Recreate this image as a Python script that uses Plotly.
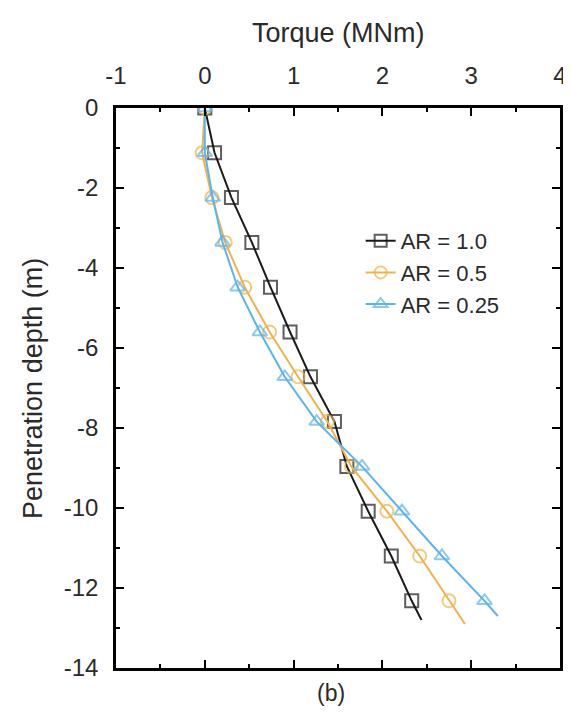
import plotly.graph_objects as go

depth_markers = [0, -1.12, -2.24, -3.36, -4.48, -5.6, -6.72, -7.84, -8.96, -10.08, -11.2, -12.32]

ar10_x = [0, 0.11, 0.30, 0.53, 0.74, 0.96, 1.19, 1.46, 1.60, 1.84, 2.10, 2.33, 2.44]
ar10_y = depth_markers + [-12.8]

ar05_x = [0, -0.03, 0.08, 0.23, 0.45, 0.73, 1.05, 1.38, 1.65, 2.05, 2.42, 2.75, 2.93]
ar05_y = depth_markers + [-12.9]

ar025_x = [0, 0.0, 0.09, 0.20, 0.37, 0.62, 0.90, 1.26, 1.77, 2.22, 2.67, 3.15, 3.30]
ar025_y = depth_markers + [-12.7]

x_tickvals = [-1, 0, 1, 2, 3, 4]
x_ticktext = ["-1", "0", "1", "2", "3", "4"]
y_tickvals = [0, -2, -4, -6, -8, -10, -12, -14]
y_ticktext = ["0", "-2", "-4", "-6", "-8", "-10", "-12", "-14"]

names = ["AR = 1.0", "AR = 0.5", "AR = 0.25"]
colors = ["#1a1a1a", "#F2B24A", "#5AB4EE"]
symbols = ["square-open", "circle-open", "triangle-up-open"]

FONT = "Liberation Sans, Arial, sans-serif"
TXT = "#2a2a2a"

fig = go.Figure()
series = [(ar10_x, ar10_y), (ar05_x, ar05_y), (ar025_x, ar025_y)]
for (xs, ys), nm, c, s in zip(series, names, colors, symbols):
    sizes = [13] * (len(xs) - 1) + [0]
    fig.add_trace(go.Scatter(
        x=xs, y=ys, mode="lines+markers", name=nm,
        line=dict(color=c, width=2),
        marker=dict(symbol=s, size=sizes, color=c, line=dict(color=c, width=2)),
    ))

axis_common = dict(
    showline=True, linecolor="black", linewidth=2.5, mirror="ticks",
    ticks="inside", ticklen=8, tickwidth=2, tickcolor="black",
    showgrid=False, zeroline=False, automargin=False,
    tickfont=dict(family=FONT, size=24, color=TXT),
)

fig.update_layout(
    width=571, height=724,
    margin=dict(l=108, r=19, t=100, b=64),
    paper_bgcolor="white", plot_bgcolor="white",
    font=dict(family=FONT, color=TXT),
    xaxis=dict(
        side="top", range=[-1, 4], tickmode="array",
        tickvals=x_tickvals, ticktext=x_ticktext, ticklabelstandoff=12,
        minor=dict(dtick=0.5, tick0=0, ticks="inside", ticklen=4, tickwidth=1.5, tickcolor="black"),
        **axis_common,
    ),
    yaxis=dict(
        range=[-14, 0], tickmode="array",
        tickvals=y_tickvals, ticktext=y_ticktext, ticklabelstandoff=10,
        minor=dict(dtick=1, tick0=0, ticks="inside", ticklen=4, tickwidth=1.5, tickcolor="black"),
        **axis_common,
    ),
    legend=dict(
        x=0.551, y=0.80, xanchor="left", yanchor="top",
        bgcolor="rgba(0,0,0,0)", font=dict(family=FONT, size=22, color=TXT),
        tracegroupgap=0,
    ),
    showlegend=True,
)

fig.add_annotation(
    text="Torque (MNm)", xref="paper", yref="paper", x=0.5, y=1.134,
    xanchor="center", yanchor="middle", showarrow=False,
    font=dict(family=FONT, size=27, color=TXT),
)
fig.add_annotation(
    text="Penetration depth (m)", xref="paper", yref="paper", x=-0.187, y=0.5,
    xanchor="center", yanchor="middle", showarrow=False, textangle=-90,
    font=dict(family=FONT, size=27, color=TXT),
)
fig.add_annotation(
    text="(b)", xref="paper", yref="paper", x=0.485, y=-0.045,
    xanchor="center", yanchor="middle", showarrow=False,
    font=dict(family=FONT, size=23, color=TXT),
)

fig.write_html("out.html")
